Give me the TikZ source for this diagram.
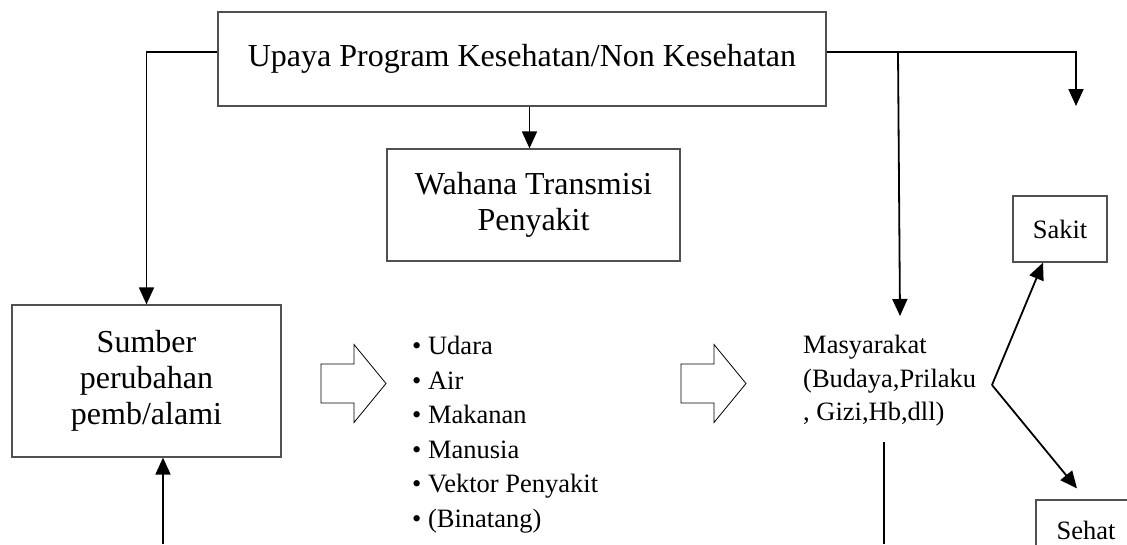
\documentclass[tikz,border=0pt]{standalone}
\usepackage{fontspec}
\setmainfont{Liberation Serif}
\usetikzlibrary{arrows.meta, positioning, calc}
\definecolor{BoxGray}{HTML}{505050}

\begin{document}
\begin{tikzpicture}[
  x=1pt, y=-1pt,
  box/.style={rectangle, draw=BoxGray, line width=1.2pt, align=center, inner sep=0pt, font=\fontsize{32}{36}\selectfont},
  smallbox/.style={box, font=\fontsize{26.5}{30}\selectfont},
  plaintext/.style={anchor=west, align=left, inner sep=0pt},
  conn/.style={line width=1.8pt, -{Triangle[length=17pt,width=15pt]}},
  bare/.style={line width=1.8pt},
  fatarrow/.pic={\draw[line width=0.8pt] (0,-19.5) -- (33,-19.5) -- (33,-39) -- (65,0) -- (33,39) -- (33,19.5) -- (0,19.5) -- cycle;}
]
\useasboundingbox (0,0) rectangle (1127,544);
\clip (0,0) rectangle (1127,544);

\node[box, minimum width=608, minimum height=94] (upaya) at (522,59) {Upaya Program Kesehatan/Non Kesehatan};
\node[box, minimum width=293, minimum height=112] (wahana) at (533.5,205) {Wahana Transmisi\\Penyakit};
\node[box, minimum width=269, minimum height=152] (sumber) at (146.5,381) {Sumber\\perubahan\\pemb/alami};
\node[plaintext, font=\fontsize{26.5}{34.5}\selectfont] (media) at (412,434.5)
  {\textbullet\ Udara\\\textbullet\ Air\\\textbullet\ Makanan\\\textbullet\ Manusia\\\textbullet\ Vektor Penyakit\\\textbullet\ (Binatang)};
\node[plaintext, font=\fontsize{26.5}{33.5}\selectfont] (masy) at (803,381) {Masyarakat\\(Budaya,Prilaku\\, Gizi,Hb,dll)};
\node[smallbox, minimum width=94, minimum height=66] (sakit) at (1060,229) {Sakit};
\node[smallbox, minimum width=100, minimum height=60] (sehat) at (1086,530) {Sehat};

\pic at (321,383.5) {fatarrow};
\pic at (681,383.5) {fatarrow};

\coordinate (split) at (898,52);
\coordinate (rightEnd) at (1076,106);
\coordinate (masyTop) at (900,316);
\coordinate (fork) at (992,385);
\coordinate (botL) at (163,544);
\coordinate (masyBot) at (884,442);
\coordinate (masyLow) at (884,544);

\draw[conn] ([yshift=7pt]upaya.west) -| (sumber.north);
\draw[conn] ([yshift=7pt]upaya.east) -| (rightEnd);
\draw[conn] (split) -- (masyTop);
\draw[conn] ([xshift=-4pt]wahana.north |- upaya.south) -- ([xshift=-4pt]wahana.north);
\draw[conn] (botL) -- (botL |- sumber.south);
\draw[bare] (masyBot) -- (masyLow);
\draw[conn] (fork) -- ([xshift=-17pt]sakit.south);
\draw[conn] (fork) -- ([xshift=-9pt,yshift=11pt]sehat.north);
\end{tikzpicture}
\end{document}
